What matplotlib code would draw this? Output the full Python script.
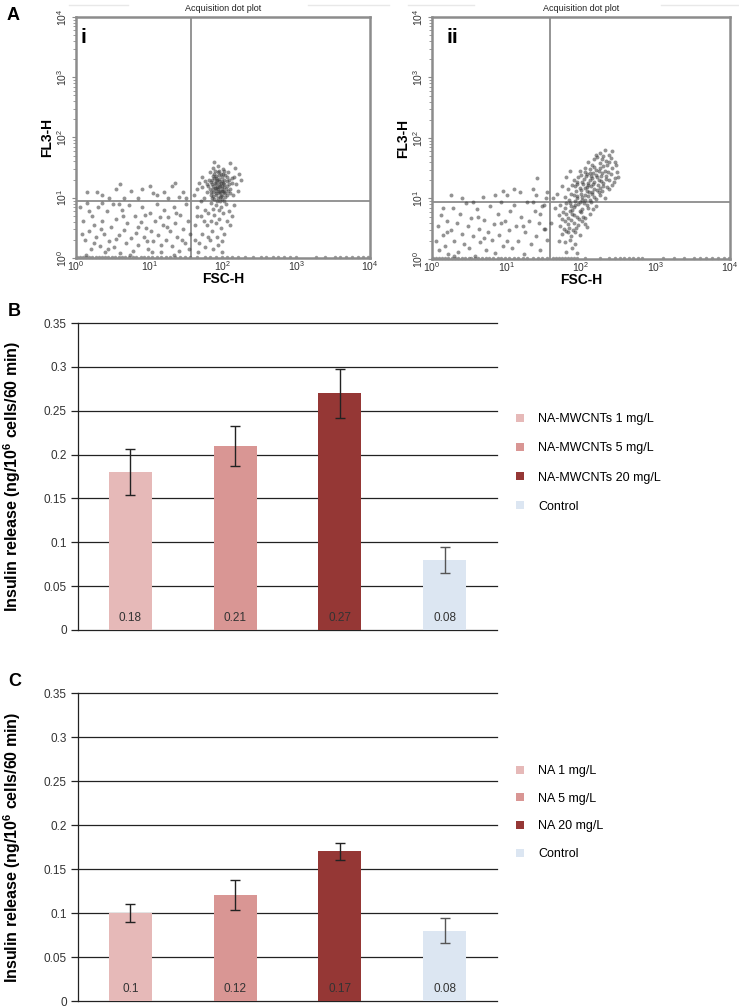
import numpy as np
import matplotlib
matplotlib.use("Agg")
import matplotlib.pyplot as plt
from matplotlib.ticker import LogLocator, NullFormatter

plt.rcParams['font.family'] = ['Liberation Sans', 'DejaVu Sans']
plt.rcParams['mathtext.fontset'] = 'custom'
plt.rcParams['mathtext.rm'] = 'Liberation Sans'
plt.rcParams['mathtext.bf'] = 'Liberation Sans:bold'

# ---- panel A: dot plots, points in decades (log10 of channel value) ----
gate_i = (1.57, 0.95)
gate_ii = (1.58, 0.94)

sparse_i = [
    (0.05, 0.85), (0.10, 0.62), (0.12, 0.30), (0.15, 0.92), (0.18, 0.45), (0.20, 0.15), (0.22, 0.70),
    (0.25, 0.55), (0.27, 0.35), (0.30, 0.85), (0.32, 0.20), (0.35, 0.62), (0.38, 0.40), (0.40, 0.10),
    (0.42, 0.78), (0.45, 0.28), (0.48, 0.52), (0.50, 0.90), (0.52, 0.18), (0.55, 0.65), (0.58, 0.38),
    (0.60, 0.08), (0.62, 0.80), (0.65, 0.47), (0.68, 0.25), (0.70, 0.58), (0.72, 0.88), (0.75, 0.33),
    (0.78, 0.12), (0.80, 0.70), (0.82, 0.42), (0.85, 0.22), (0.88, 0.60), (0.90, 0.85), (0.92, 0.35),
    (0.95, 0.50), (0.98, 0.15), (1.00, 0.75), (1.02, 0.45), (1.05, 0.28), (1.08, 0.62), (1.10, 0.90),
    (1.12, 0.38), (1.15, 0.10), (1.18, 0.55), (1.20, 0.80), (1.22, 0.30), (1.25, 0.68), (1.28, 0.45),
    (1.30, 0.20), (1.33, 0.85), (1.35, 0.58), (1.38, 0.35), (1.40, 0.12), (1.42, 0.72), (1.45, 0.48),
    (1.48, 0.25), (1.50, 0.90), (1.52, 0.62), (1.55, 0.40), (0.08, 0.40), (0.14, 0.05), (0.24, 0.25),
    (0.34, 0.48), (0.44, 0.15), (0.54, 0.32), (0.64, 0.70), (0.74, 0.05), (0.84, 0.52), (0.94, 0.72),
    (1.04, 0.10), (1.14, 0.68), (1.24, 0.52), (1.34, 0.05), (1.44, 0.30), (1.54, 0.15), (0.18, 0.78),
    (0.36, 0.92), (0.58, 0.90), (0.96, 0.28), (1.16, 0.22), (1.36, 0.75),
    (0.28, 1.10), (0.35, 1.05), (0.55, 1.15), (0.65, 1.00), (0.75, 1.12), (0.90, 1.15), (1.00, 1.20),
    (1.10, 1.05), (1.20, 1.10), (1.30, 1.20), (1.35, 1.25), (1.45, 1.10), (1.50, 1.00), (0.45, 1.00),
    (0.15, 1.10), (1.25, 1.00), (1.40, 1.02), (0.85, 1.00), (1.05, 1.08), (0.60, 1.22),
]
cluster_i = [
    (1.80, 1.20), (1.83, 1.05), (1.85, 1.30), (1.86, 1.15), (1.88, 0.98), (1.88, 1.40), (1.90, 1.22),
    (1.90, 1.08), (1.91, 1.33), (1.92, 1.18), (1.93, 1.00), (1.94, 1.27), (1.95, 1.12), (1.95, 1.45),
    (1.96, 1.20), (1.97, 1.03), (1.98, 1.35), (1.99, 1.15), (2.00, 1.25), (2.01, 0.95), (2.02, 1.10),
    (2.03, 1.38), (2.05, 1.20), (2.06, 1.05), (2.08, 1.30), (2.10, 1.15), (2.12, 1.25), (2.15, 1.35),
    (1.78, 1.10), (1.76, 1.28), (1.82, 1.42), (1.87, 1.50), (1.93, 1.52), (2.00, 1.48), (2.07, 1.42),
    (1.84, 0.92), (1.90, 0.88), (1.97, 0.85), (2.04, 0.90), (1.74, 1.00), (1.72, 1.18), (2.14, 1.05),
    (2.18, 1.22), (2.20, 1.12), (1.89, 1.25), (1.94, 1.37), (1.99, 1.05), (1.87, 1.10), (1.92, 1.30),
    (1.96, 0.95), (2.01, 1.18), (1.85, 1.22), (1.91, 1.12), (1.98, 1.28), (2.03, 1.02), (1.94, 1.08),
    (1.88, 1.33), (2.00, 1.40), (1.82, 1.15), (2.06, 1.28), (1.93, 1.15), (1.97, 1.24), (1.89, 1.17),
    (1.95, 1.31), (2.02, 1.22), (1.91, 1.04), (1.86, 1.36), (1.99, 1.11),
    (1.84, 1.26), (1.90, 1.16), (1.96, 1.10), (2.02, 1.30), (2.08, 1.22), (1.93, 1.42), (1.87, 1.03),
    (1.99, 0.98), (2.04, 1.15), (1.81, 1.30), (1.97, 1.40), (1.92, 0.94), (2.10, 1.08), (1.85, 1.00),
    (1.95, 1.18), (2.00, 1.12), (1.89, 1.45), (2.05, 1.35), (1.78, 1.22), (1.94, 1.23), (1.98, 1.20),
    (1.91, 1.27), (2.03, 1.08), (1.86, 1.19), (2.12, 1.32), (1.96, 1.02), (1.90, 1.36), (2.07, 1.12),
    (1.83, 1.10), (2.01, 1.45),
    (1.65, 0.85), (1.70, 0.70), (1.75, 0.80), (1.78, 0.55), (1.80, 0.75), (1.83, 0.62), (1.85, 0.45),
    (1.88, 0.72), (1.90, 0.58), (1.92, 0.35), (1.95, 0.65), (1.97, 0.50), (2.00, 0.75), (2.02, 0.40),
    (2.05, 0.62), (2.08, 0.78), (2.10, 0.55), (1.72, 0.40), (1.68, 0.25), (1.76, 0.18), (1.82, 0.30),
    (1.87, 0.15), (1.93, 0.22), (1.98, 0.10), (1.62, 0.55), (1.66, 0.10), (1.74, 0.62), (1.86, 0.82),
    (1.94, 0.80), (2.12, 0.70), (2.15, 0.88), (1.79, 0.35), (1.99, 0.28), (1.64, 0.70), (1.70, 0.95),
    (1.60, 1.05), (1.65, 1.15), (1.68, 1.25), (1.72, 1.35), (2.25, 1.30), (2.22, 1.40), (2.16, 1.50),
    (1.62, 0.30), (2.10, 1.58), (1.88, 1.60),
]
floor_i = [0.02, 0.06, 0.10, 0.14, 0.18, 0.22, 0.27, 0.31, 0.35, 0.40, 0.44, 0.49, 0.53, 0.58, 0.62,
           0.67, 0.72, 0.77, 0.82, 0.88, 0.93, 0.98, 1.04, 1.10, 1.16, 1.22, 1.28, 1.35, 1.42, 1.48,
           1.55, 1.65, 1.75, 1.82, 1.90, 1.98, 2.05, 2.12, 2.20, 2.30, 2.41, 2.52, 2.59, 2.68, 2.75,
           2.83, 2.91, 2.99, 3.27, 3.39, 3.52, 3.59, 3.68, 3.76, 3.84, 3.91, 3.97]

sparse_ii = [
    (0.05, 0.30), (0.08, 0.55), (0.10, 0.15), (0.12, 0.72), (0.15, 0.40), (0.18, 0.22), (0.20, 0.62),
    (0.22, 0.08), (0.25, 0.48), (0.28, 0.85), (0.30, 0.30), (0.33, 0.60), (0.35, 0.12), (0.38, 0.75),
    (0.40, 0.42), (0.43, 0.25), (0.45, 0.92), (0.48, 0.55), (0.50, 0.18), (0.53, 0.68), (0.55, 0.38),
    (0.58, 0.05), (0.60, 0.82), (0.63, 0.50), (0.65, 0.28), (0.68, 1.02), (0.70, 0.65), (0.73, 0.15),
    (0.75, 0.45), (0.78, 0.88), (0.80, 0.32), (0.83, 0.58), (0.85, 0.10), (0.88, 0.75), (0.90, 0.40),
    (0.93, 0.95), (0.95, 0.22), (0.98, 0.62), (1.00, 1.05), (1.03, 0.48), (1.05, 0.80), (1.08, 0.18),
    (1.10, 0.90), (1.13, 0.55), (1.15, 0.30), (1.18, 1.10), (1.20, 0.70), (1.23, 0.08), (1.25, 0.45),
    (1.28, 0.95), (1.30, 0.62), (1.33, 0.25), (1.35, 1.15), (1.38, 0.80), (1.40, 0.38), (1.43, 0.60),
    (1.45, 0.15), (1.48, 0.88), (1.50, 0.50), (1.53, 1.00), (1.55, 0.32), (0.15, 0.85), (0.40, 1.00),
    (0.55, 0.95), (0.85, 1.05), (1.10, 1.15), (0.62, 0.70), (0.92, 0.60), (1.22, 0.55), (0.30, 0.05),
    (0.70, 0.35), (1.00, 0.30), (0.20, 0.45), (1.41, 1.34), (0.25, 1.05), (0.95, 1.12),
]
cluster_ii = [
    (2.25, 1.75), (2.32, 1.80), (2.38, 1.72), (2.42, 1.78), (2.30, 1.70),
    (2.10, 1.60), (2.18, 1.65), (2.25, 1.58), (2.33, 1.62), (2.40, 1.67), (2.45, 1.60), (2.22, 1.68),
    (2.15, 1.56),
    (1.98, 1.45), (2.05, 1.50), (2.12, 1.42), (2.18, 1.52), (2.24, 1.46), (2.30, 1.53), (2.36, 1.44),
    (2.42, 1.50), (2.48, 1.43), (2.08, 1.41), (2.20, 1.47), (2.28, 1.42),
    (1.90, 1.30), (1.96, 1.36), (2.02, 1.28), (2.07, 1.38), (2.12, 1.31), (2.17, 1.27), (2.22, 1.35),
    (2.27, 1.29), (2.33, 1.37), (2.38, 1.30), (2.45, 1.34), (2.00, 1.39), (2.10, 1.26), (2.20, 1.39),
    (2.30, 1.26), (2.15, 1.34),
    (1.82, 1.15), (1.88, 1.22), (1.93, 1.12), (1.98, 1.18), (2.03, 1.24), (2.08, 1.13), (2.13, 1.20),
    (2.18, 1.16), (2.23, 1.23), (2.28, 1.12), (2.35, 1.19), (2.42, 1.22), (1.95, 1.24), (2.05, 1.17),
    (2.15, 1.11), (2.25, 1.18), (2.10, 1.22),
    (1.78, 1.02), (1.84, 0.97), (1.90, 1.06), (1.95, 1.00), (2.00, 1.08), (2.05, 0.98), (2.10, 1.04),
    (2.15, 1.08), (2.20, 0.99), (2.26, 1.05), (2.32, 1.01), (1.92, 0.96), (2.02, 1.03), (2.12, 0.97),
    (1.72, 0.90), (1.78, 0.84), (1.85, 0.93), (1.90, 0.86), (1.96, 0.91), (2.02, 0.83), (2.08, 0.89),
    (2.14, 0.94), (2.20, 0.87), (1.88, 0.81), (1.98, 0.94),
    (1.70, 0.72), (1.76, 0.78), (1.82, 0.68), (1.88, 0.75), (1.94, 0.70), (2.00, 0.77), (2.06, 0.67),
    (2.12, 0.74), (1.85, 0.79), (1.97, 0.66),
    (1.72, 0.55), (1.78, 0.62), (1.84, 0.52), (1.90, 0.60), (1.96, 0.56), (2.02, 0.63), (2.08, 0.53),
    (1.87, 0.64),
    (1.74, 0.42), (1.80, 0.47), (1.86, 0.38), (1.92, 0.45), (1.98, 0.40),
    (1.78, 0.28), (1.85, 0.32), (1.92, 0.24), (1.70, 0.30),
    (1.80, 0.12), (1.88, 0.18), (1.95, 0.10),
    (2.20, 1.72), (2.28, 1.66), (2.35, 1.55), (2.12, 1.48), (2.26, 1.50), (2.40, 1.40), (2.04, 1.33),
    (2.14, 1.38), (2.24, 1.31), (2.34, 1.33), (1.92, 1.20), (2.00, 1.14), (2.08, 1.19), (2.16, 1.24),
    (2.22, 1.14), (2.30, 1.21), (2.38, 1.15), (1.86, 1.08), (1.94, 1.04), (2.06, 1.06), (2.18, 1.02),
    (2.24, 1.10), (1.80, 0.92), (1.92, 0.90), (2.04, 0.92), (2.10, 0.85), (2.16, 0.82), (1.80, 0.75),
    (1.91, 0.72), (2.03, 0.70), (1.75, 0.66), (1.83, 0.58), (1.93, 0.52), (2.05, 0.58), (1.77, 0.50),
    (1.89, 0.48), (1.83, 0.44), (1.95, 1.28), (2.06, 1.44), (2.16, 1.42), (2.32, 1.46), (2.44, 1.27),
    (2.50, 1.35), (1.98, 0.80), (2.11, 1.10), (2.01, 0.98), (1.87, 0.87), (2.27, 1.38), (2.37, 1.60),
    (2.47, 1.55),
    (1.50, 0.90), (1.55, 1.10), (1.45, 0.75), (1.60, 0.60), (1.62, 1.00), (1.52, 0.50), (1.40, 1.05),
    (1.35, 0.95), (1.65, 0.85), (1.68, 1.08), (1.75, 1.20), (1.80, 1.35), (1.85, 1.45),
]
floor_ii = [0.02, 0.06, 0.10, 0.14, 0.18, 0.22, 0.27, 0.31, 0.35, 0.40, 0.44, 0.49, 0.53, 0.58, 0.62,
            0.67, 0.72, 0.77, 0.82, 0.88, 0.93, 0.98, 1.04, 1.10, 1.16, 1.22, 1.28, 1.35, 1.42, 1.48,
            1.55, 1.62, 1.66, 1.70, 1.74, 1.78, 1.82, 1.86, 1.90, 1.94, 2.05, 2.25, 2.38, 2.46, 2.52,
            2.58, 2.64, 2.70, 2.76, 2.82, 3.10, 3.25, 3.38, 3.52, 3.60, 3.68, 3.76, 3.84, 3.92, 3.98]

# ---- panels B and C: insulin release ----
b_labels = ["NA-MWCNTs 1 mg/L", "NA-MWCNTs 5 mg/L", "NA-MWCNTs 20 mg/L", "Control"]
b_values = [0.18, 0.21, 0.27, 0.08]
b_errors = [0.026, 0.023, 0.028, 0.015]
c_labels = ["NA 1 mg/L", "NA 5 mg/L", "NA 20 mg/L", "Control"]
c_values = [0.10, 0.12, 0.17, 0.08]
c_errors = [0.010, 0.017, 0.010, 0.014]
bar_colors = ["#e6b9b8", "#d99694", "#953735", "#dce6f2"]
err_colors = ["#222222", "#222222", "#222222", "#555555"]
yticks = [0, 0.05, 0.1, 0.15, 0.2, 0.25, 0.3, 0.35]

W, H = 739, 1008
fig = plt.figure(figsize=(W / 100, H / 100), dpi=100)


def px_axes(left, top, right, bottom):
    return fig.add_axes([left / W, 1 - bottom / H, (right - left) / W, (bottom - top) / H])


def dot_plot(ax, sparse, cluster, floor, gate, tag, tag_x):
    pts = np.array(sparse + cluster)
    ax.scatter(10 ** pts[:, 0], 10 ** pts[:, 1], s=8, c="#3a3a3a", alpha=0.55, linewidths=0, zorder=2)
    fl = np.array(floor)
    ax.scatter(10 ** fl, np.full(len(fl), 10 ** 0.015), s=6, c="#555555", alpha=0.6,
               linewidths=0, zorder=2, clip_on=False)
    ax.set_xscale("log")
    ax.set_yscale("log")
    ax.set_xlim(1, 1e4)
    ax.set_ylim(1, 1e4)
    ax.axvline(10 ** gate[0], color="#8c8c8c", lw=1.3, zorder=1)
    ax.axhline(10 ** gate[1], color="#8c8c8c", lw=1.3, zorder=1)
    for s in ax.spines.values():
        s.set_color("#8c8c8c")
        s.set_linewidth(1.8)
    ax.xaxis.set_major_locator(LogLocator(base=10, numticks=10))
    ax.yaxis.set_major_locator(LogLocator(base=10, numticks=10))
    ax.xaxis.set_minor_locator(LogLocator(base=10, subs=np.arange(2, 10), numticks=20))
    ax.yaxis.set_minor_locator(LogLocator(base=10, subs=np.arange(2, 10), numticks=20))
    ax.xaxis.set_minor_formatter(NullFormatter())
    ax.yaxis.set_minor_formatter(NullFormatter())
    ax.tick_params(axis="x", which="both", length=0, labelsize=7.5, colors="#333333", pad=1)
    ax.tick_params(axis="y", which="major", length=3, color="#8c8c8c", labelsize=7.5,
                   labelcolor="#333333", pad=2)
    ax.tick_params(axis="y", which="minor", length=2, color="#8c8c8c")
    for lab in ax.get_yticklabels():
        lab.set_rotation(90)
        lab.set_va("center")
    ax.set_xlabel("FSC-H", fontsize=10, fontweight="bold", labelpad=-1)
    ax.set_ylabel("FL3-H", fontsize=10, fontweight="bold", labelpad=1)
    ax.set_title("Acquisition dot plot", fontsize=6.5, pad=4, color="#222222")
    ax.text(tag_x, 0.915, tag, transform=ax.transAxes, fontsize=15, fontweight="bold",
            ha="left", va="center")


ax_i = px_axes(76, 17, 370, 258)
dot_plot(ax_i, sparse_i, cluster_i, floor_i, gate_i, "i", 0.016)
ax_ii = px_axes(432, 17, 730, 259)
dot_plot(ax_ii, sparse_ii, cluster_ii, floor_ii, gate_ii, "ii", 0.05)

# faint rules beside the dot plot titles
for x0, x1 in [(69, 128), (308, 389), (408, 474), (661, 739)]:
    fig.add_artist(plt.Line2D([x0 / W, x1 / W], [1 - 5 / H, 1 - 5 / H], color="#e8e8e8", lw=1))


def bar_panel(ax, labels, values, errors, legend_top, spacing):
    xs = np.arange(len(values))
    handles = []
    for x, v, e, col, ecol, lab in zip(xs, values, errors, bar_colors, err_colors, labels):
        b = ax.bar(x, v, width=0.41, color=col, zorder=2, label=lab)
        ax.errorbar(x, v, yerr=e, fmt="none", ecolor=ecol, elinewidth=1, capsize=3.5,
                    capthick=1, zorder=3)
        ax.text(x, 0.0135, f"{v:g}", ha="center", va="center", fontsize=8.5, color="#333333", zorder=4)
        handles.append(b)
    ax.set_xlim(-0.5, len(values) - 0.5)
    ax.set_ylim(0, 0.35)
    ax.set_yticks(yticks)
    ax.set_yticklabels([f"{t:g}" for t in yticks])
    for t in yticks:
        ax.axhline(t, color="#222222", lw=0.9, zorder=1, clip_on=False)
    ax.set_xticks([])
    for side in ["top", "right", "bottom"]:
        ax.spines[side].set_visible(False)
    ax.spines["left"].set_color("#222222")
    ax.spines["left"].set_linewidth(0.9)
    ax.tick_params(axis="y", length=5, width=0.9, color="#222222", labelsize=8.5,
                   labelcolor="#333333", pad=3)
    ax.set_ylabel("Insulin release (ng/10$^{\\bf{6}}$ cells/60 min)", fontsize=11.5,
                  fontweight="bold")
    ax.yaxis.set_label_coords(-0.132, 0.5)
    fig.legend(handles=handles, labels=labels, loc="upper left",
               bbox_to_anchor=(516 / W, 1 - legend_top / H), frameon=False, fontsize=9,
               handlelength=0.6, handleheight=0.6, handletextpad=1.2, labelspacing=spacing,
               borderaxespad=0, borderpad=0)


ax_b = px_axes(78, 323, 497, 630)
bar_panel(ax_b, b_labels, b_values, b_errors, 413, 1.38)
ax_c = px_axes(78, 693, 497, 1001)
bar_panel(ax_c, c_labels, c_values, c_errors, 765, 1.26)

fig.text(7 / W, 1 - 16 / H, "A", fontsize=13, fontweight="bold", ha="left", va="center")
fig.text(8 / W, 1 - 312 / H, "B", fontsize=13, fontweight="bold", ha="left", va="center")
fig.text(8 / W, 1 - 682 / H, "C", fontsize=13, fontweight="bold", ha="left", va="center")

fig.savefig("out.png", dpi=100)
